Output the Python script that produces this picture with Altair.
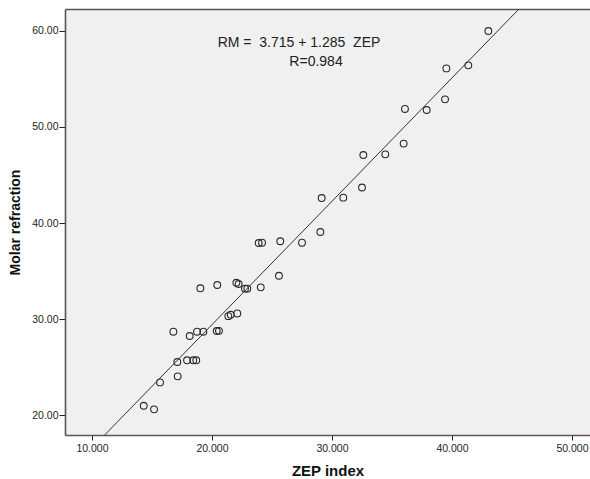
import altair as alt
import pandas as pd

# ZEP index (x) and molar refraction (y)
zep = [14.31, 15.17, 15.67, 16.78, 17.11, 17.14, 17.92, 18.14, 18.44, 18.69,
       18.75, 19.03, 19.28, 20.39, 20.44, 20.58, 21.36, 21.56, 22.03, 22.11,
       22.22, 22.75, 22.94, 23.89, 24.06, 24.17, 25.58, 25.69, 27.50, 29.03,
       29.14, 30.94, 32.50, 32.61, 34.44, 35.97, 36.08, 37.89, 39.42, 39.53,
       41.36, 43.03]
rm = [20.97, 20.59, 23.40, 28.68, 25.52, 24.03, 25.70, 28.23, 25.70, 25.70,
      28.68, 33.20, 28.68, 28.75, 33.54, 28.77, 30.30, 30.44, 33.78, 30.58,
      33.65, 33.16, 33.16, 37.92, 33.30, 37.95, 34.51, 38.10, 37.95, 39.06,
      42.60, 42.64, 43.70, 47.08, 47.15, 48.27, 51.88, 51.77, 52.88, 56.10,
      56.42, 60.00]

intercept = 3.715
slope = 1.285
x_domain = [7.75, 51.5]
y_domain = [17.92, 62.29]
x_ticks = [10, 20, 30, 40, 50]
y_ticks = [20, 30, 40, 50, 60]
eq_lines = ["RM =\u00a0 3.715 + 1.285 \u00a0ZEP", "R=0.984"]

pts = pd.DataFrame({"ZEP": zep, "RM": rm})
line_df = pd.DataFrame({"ZEP": x_domain,
                        "RM": [intercept + slope * v for v in x_domain]})

FONT = "Liberation Sans"
FRAME = "#555555"

xscale = alt.Scale(domain=x_domain, nice=False, zero=False)
yscale = alt.Scale(domain=y_domain, nice=False, zero=False)

xaxis = alt.Axis(title="ZEP index", values=x_ticks, format=".3f", grid=False,
                 domainColor=FRAME, domainWidth=1.6, tickColor="#222",
                 tickSize=5, labelFontSize=10.5, labelColor="#222",
                 labelFont=FONT, labelPadding=3, titleFont=FONT,
                 titleFontSize=15, titleFontWeight="bold", titleColor="#111",
                 titlePadding=10)
yaxis = alt.Axis(title="Molar refraction", values=y_ticks, format=".2f",
                 grid=False, domainColor=FRAME, domainWidth=1.6,
                 tickColor="#222", tickSize=6, labelFontSize=10.5,
                 labelColor="#222", labelFont=FONT, labelPadding=1,
                 titleFont=FONT, titleFontSize=14, titleFontWeight="bold",
                 titleColor="#111", titlePadding=9)

points = alt.Chart(pts).mark_point(
    shape="circle", filled=False, size=46, stroke="#2a2a2a", strokeWidth=1.1,
    opacity=1
).encode(
    x=alt.X("ZEP:Q", scale=xscale, axis=xaxis),
    y=alt.Y("RM:Q", scale=yscale, axis=yaxis),
)

fit = alt.Chart(line_df).mark_line(color="#333", strokeWidth=1, clip=True).encode(
    x=alt.X("ZEP:Q", scale=xscale,
            axis=alt.Axis(orient="top", labels=False, ticks=False, title=None,
                          grid=False, domainColor=FRAME, domainWidth=1.6)),
    y=alt.Y("RM:Q", scale=yscale),
)

eq_df = pd.DataFrame({"t": eq_lines, "row": [0, 1]})
eq1 = alt.Chart(eq_df).transform_filter("datum.row == 0").mark_text(
    font=FONT, fontSize=14, color="#222", align="center", baseline="alphabetic"
).encode(text="t:N", x=alt.value(234), y=alt.value(37.5))
eq2 = alt.Chart(eq_df).transform_filter("datum.row == 1").mark_text(
    font=FONT, fontSize=14, color="#222", align="center", baseline="alphabetic"
).encode(text="t:N", x=alt.value(251), y=alt.value(57))

chart = alt.layer(points, fit, eq1, eq2).resolve_axis(x="independent").properties(
    width=525, height=426,
    autosize=alt.AutoSizeParams(type="none"),
    padding={"left": 65, "top": 9, "right": 0, "bottom": 44},
    background="white",
).configure_view(stroke=None, fill="#f0f0f0")

chart.save("out.html", embed_options={"renderer": "svg", "actions": False})
